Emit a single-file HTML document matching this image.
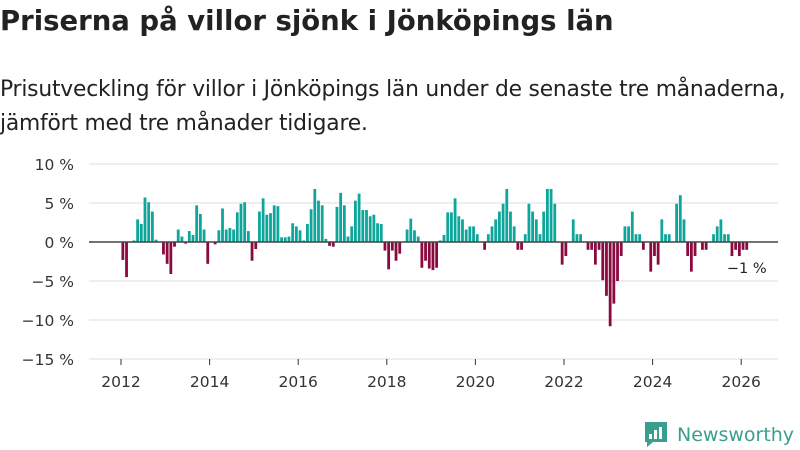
<!DOCTYPE html>
<html><head><meta charset="utf-8">
<style>
body{margin:0;width:800px;height:450px;background:#fff;font-family:"DejaVu Sans","Liberation Sans",sans-serif;color:#222;overflow:hidden;position:relative}
#title{position:absolute;left:0;top:5px;font-size:27.5px;font-weight:bold;letter-spacing:0px;margin:0;white-space:nowrap}
#sub{position:absolute;left:0;top:73px;font-size:21.8px;line-height:34px;color:#222;white-space:nowrap;letter-spacing:-0.2px}
svg{position:absolute;left:0;top:0}
</style></head><body>
<h1 id="title">Priserna på villor sjönk i Jönköpings län</h1>
<div id="sub">Prisutveckling för villor i Jönköpings län under de senaste tre månaderna,<br>jämfört med tre månader tidigare.</div>
<svg id="chart" width="800" height="450"></svg>
<script>
const startYear = 2012;
const values = [
-2.3,-4.5,0,0.2,2.9,2.3,5.7,5.1,3.9,0.3,0,-1.6,-2.8,-4.1,-0.6,1.6,0.7,-0.2,1.4,0.9,4.7,3.6,1.6,-2.8,0,-0.3,1.5,4.3,1.6,1.8,1.6,3.8,4.9,5.1,1.4,-2.4,-0.9,3.9,5.6,3.5,3.7,4.7,4.6,0.6,0.6,
0.7,2.4,2.0,1.5,0.2,2.3,4.2,6.8,5.3,4.7,0.4,-0.5,-0.6,4.5,6.3,4.7,0.7,2.0,5.3,6.2,4.1,4.1,3.3,3.5,2.4,2.3,-1.1,-3.5,-1.1,-2.4,-1.5,0,1.6,3.0,1.5,0.7,-3.3,-2.4,-3.4,-3.6,-3.3,0.2,0.9,3.8,3.8,5.6,
3.3,2.9,1.6,2.0,2.0,1.0,0,-1.0,1.0,2.0,2.9,3.9,4.9,6.8,3.9,2.0,-1.0,-1.0,1.0,4.9,3.9,2.9,1.0,3.9,6.8,6.8,4.9,0,-2.9,-1.8,0,2.9,1.0,1.0,0,-1.0,-1.0,-2.9,-1.0,-4.9,-6.9,-10.8,-7.9,-5.0,
-1.8,2.0,2.0,3.9,1.0,1.0,-1.0,0,-3.8,-1.8,-2.9,2.9,1.0,1.0,0,4.9,6.0,2.9,-1.8,-3.8,-1.8,0,-1.0,-1.0,0,1.0,2.0,2.9,1.0,1.0,-1.8,-1.0,-1.8,-1.0,-1.0];
const yTicks = [10,5,0,-5,-10,-15];
const yTickLabels = ["10 %","5 %","0 %","−5 %","−10 %","−15 %"];
const xTicks = [2012,2014,2016,2018,2020,2022,2024,2026];
const lastLabel = "−1 %";

const NS="http://www.w3.org/2000/svg";
const svg=document.getElementById('chart');
const FF='DejaVu Sans, Liberation Sans, sans-serif';
const y=v=>242-v*7.8;
const x=t=>121+(t-2012)*44.3;
function el(tag,attrs,parent){const e=document.createElementNS(NS,tag);for(const k in attrs)e.setAttribute(k,attrs[k]);(parent||svg).appendChild(e);return e;}
yTicks.forEach((t,i)=>{
  if(t!==0){const g=el('line',{x1:89,x2:778,y1:y(t),y2:y(t),stroke:'#dedede','stroke-width':1});
  
  }
  const tx=el('text',{x:74,y:y(t)+6,'text-anchor':'end','font-size':15.5,fill:'#333','font-family':FF});
  tx.textContent=yTickLabels[i];
  
  
});
xTicks.forEach(t=>{
  const tk=el('line',{x1:x(t),x2:x(t),y1:359,y2:365,stroke:'#333','stroke-width':1});
  
  
  const tx=el('text',{x:x(t),y:387,'text-anchor':'middle','font-size':15.5,fill:'#333','font-family':FF});
  tx.textContent=t;
  
  
});
values.forEach((v,i)=>{
  const cx=x(startYear+(i+0.5)/12);
  const top=Math.min(y(v),y(0)), h=Math.abs(y(v)-y(0));
  const b=el('rect',{x:cx-1.4,y:top,width:2.8,height:h,fill:v>=0?'#0ea59b':'#8a0a3f'});
  
  
});
const zl=el('line',{x1:89,x2:778,y1:y(0),y2:y(0),stroke:'#444','stroke-width':1.5});


const ll=el('text',{x:x(startYear+(values.length-0.5)/12),y:273,'text-anchor':'middle','font-size':14.5,fill:'#222','font-family':FF});
ll.textContent=lastLabel;


const lg=el('g',{});


el('path',{d:'M645 422 h22 v20 h-14 l-6 5 v-5 h-2 z',fill:'#3a9e8f'},lg);
el('rect',{x:649,y:434,width:3,height:5,fill:'#fff'},lg);
el('rect',{x:654,y:430,width:3,height:9,fill:'#fff'},lg);
el('rect',{x:659,y:427,width:3,height:12,fill:'#fff'},lg);
const lt=el('text',{x:677,y:441,'font-size':19,fill:'#3a9e8f','font-family':FF},lg);
lt.textContent='Newsworthy';
</script>
</body></html>
